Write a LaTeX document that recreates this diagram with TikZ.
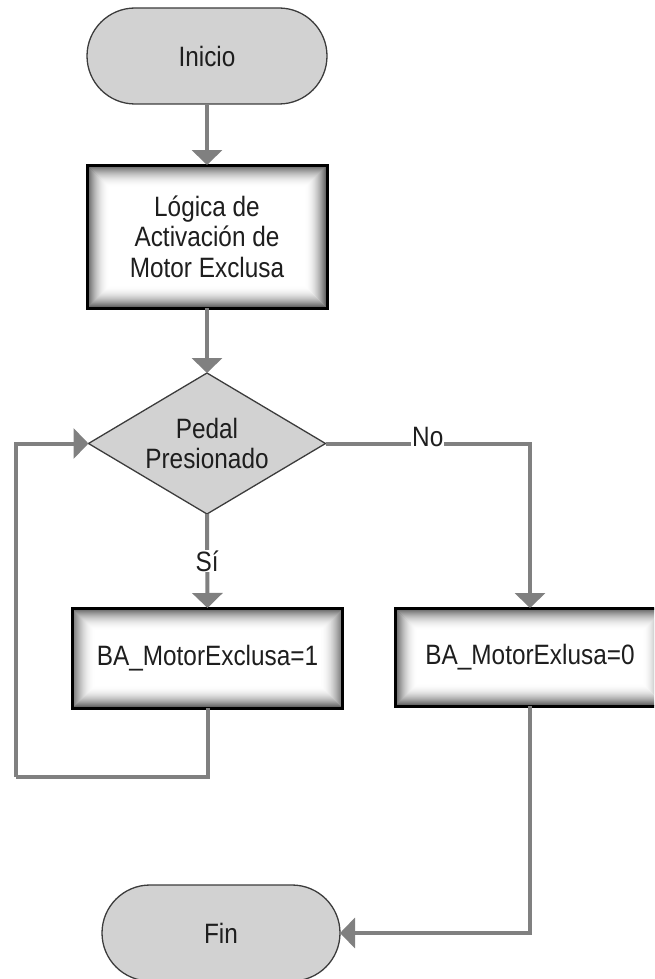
\documentclass[tikz,border=0pt]{standalone}
\usepackage{fontspec}
\setmainfont{Liberation Sans}[FakeStretch=0.87]
\usetikzlibrary{shapes.geometric,arrows.meta}

% light vignette for the corners of the process boxes
\pgfdeclareradialshading{boxvign}{\pgfpoint{0bp}{0bp}}{color(0bp)=(white); color(40bp)=(white); color(50bp)=(black!10); color(60bp)=(black!30); color(71bp)=(black!55)}

\definecolor{conncol}{HTML}{808080}
\definecolor{termfill}{HTML}{D2D2D2}
\definecolor{termline}{HTML}{3C3C3C}
\definecolor{txt}{HTML}{1E1E1E}

\tikzset{
  every node/.style={font=\fontsize{28}{30.5}\selectfont, text=txt, align=center, outer sep=0pt},
  terminal/.style={draw=termline, line width=1.3pt, fill=termfill, rectangle, rounded corners=48pt,
    minimum width=240pt, minimum height=96pt, inner sep=0pt},
  decision/.style={draw=termline, line width=1.3pt, fill=termfill, diamond, aspect=1.68,
    minimum width=237pt, minimum height=141pt, inner sep=0pt},
  procbox/.style={draw=black, line width=3pt, rectangle, inner sep=0pt,
    path picture={
      \shade[shading=boxvign] (path picture bounding box.south west) rectangle (path picture bounding box.north east);
      % inner glow: one-point rings, darker towards the frame
      \foreach \i in {0,...,22}{
        \pgfmathsetmacro{\glow}{0.62*(1-\i/23)^2.2}
        \fill[black, opacity=\glow, even odd rule]
          ([xshift=\i pt, yshift=\i pt]path picture bounding box.south west)
          rectangle ([xshift=-\i pt, yshift=-\i pt]path picture bounding box.north east)
          ([xshift=\i pt+1pt, yshift=\i pt+1pt]path picture bounding box.south west)
          rectangle ([xshift=-\i pt-1pt, yshift=-\i pt-1pt]path picture bounding box.north east);
      }
    }},
  conn/.style={draw=conncol, line width=4pt, -{Triangle[width=30pt,length=15pt]}},
  plainconn/.style={draw=conncol, line width=4pt},
  lbl/.style={fill=white, inner sep=1pt, text=txt}
}

\begin{document}
\begin{tikzpicture}[x=1pt, y=-1pt]
  \useasboundingbox (0,0) rectangle (654,979);
  \clip (0,0) rectangle (654,979);

  \node[terminal] (ini) at (207,56) {Inicio};
  \node[procbox, minimum width=240pt, minimum height=143pt] (logic) at (207,236.5)
    {Lógica de\\Activación de\\Motor Exclusa};
  \node[decision] (dec) at (207,443.5) {Pedal\\Presionado};
  \node[procbox, minimum width=270pt, minimum height=100pt] (on) at (207.5,658) {BA\_MotorExclusa=1};
  \node[procbox, minimum width=270pt, minimum height=98pt] (off) at (530,657) {BA\_MotorExlusa=0};
  \node[terminal, minimum width=238pt] (fin) at (221,933) {Fin};

  \coordinate (loopcorner) at (16,777);

  \draw[conn] (ini.south) -- (logic.north);
  \draw[conn] (logic.south) -- (dec.north);
  \draw[conn] (dec.south) -- node[lbl, pos=0.5] {Sí} (on.north);
  \draw[conn] (dec.east) -| node[lbl, pos=0.25, yshift=7pt] {No} (off.north);
  \draw[plainconn] (on.south) |- (loopcorner);
  \draw[conn] (loopcorner) |- (dec.west);
  \draw[conn] (off.south) |- (fin.east);
\end{tikzpicture}
\end{document}
